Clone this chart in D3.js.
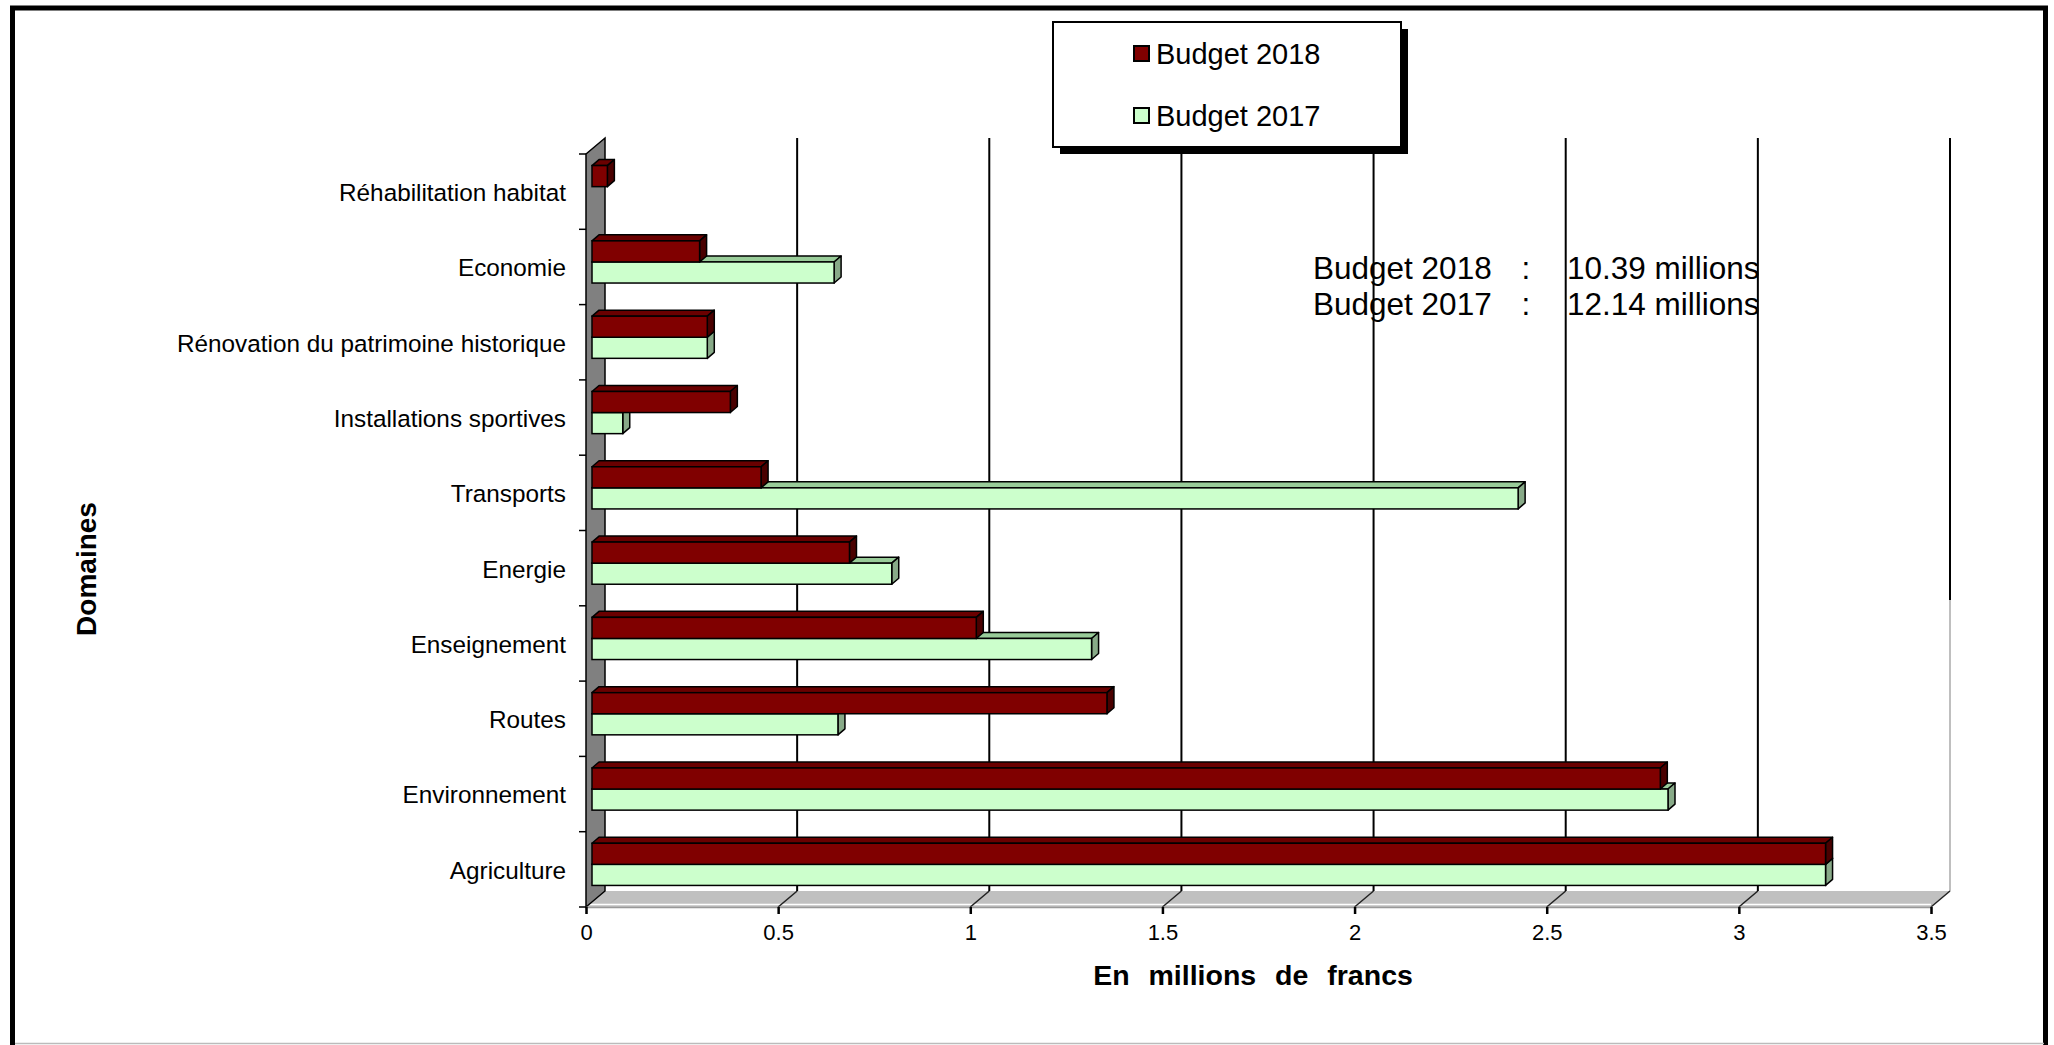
<!DOCTYPE html>
<html>
<head>
<meta charset="utf-8">
<script src="https://cdn.jsdelivr.net/npm/d3@7"></script>
<style>
  body { margin: 0; background: #fff; }
  text { font-family: "Liberation Sans", Arial, sans-serif; }
</style>
</head>
<body>
<svg id="chart" width="2054" height="1045"></svg>
<script>
const categories = ["Réhabilitation habitat", "Economie", "Rénovation du patrimoine historique",
  "Installations sportives", "Transports", "Energie", "Enseignement", "Routes",
  "Environnement", "Agriculture"];
const series = ["Budget 2018", "Budget 2017"];
const budget2018 = [0.04, 0.28, 0.30, 0.36, 0.44, 0.67, 1.00, 1.34, 2.78, 3.21];
const budget2017 = [0, 0.63, 0.30, 0.08, 2.41, 0.78, 1.30, 0.64, 2.80, 3.21];
const xTicks = [0, 0.5, 1, 1.5, 2, 2.5, 3, 3.5];
const totalLabels = ["Budget 2018", "Budget 2017"];
const totalValues = ["10.39 millions", "12.14 millions"];

const svg = d3.select("#chart");

// colours: front, top, side
const colors = {
  "Budget 2018": ["#800000", "#6a0000", "#4a0000"],
  "Budget 2017": ["#ccffcc", "#99cc99", "#88aa88"]
};

// outer frame
svg.append("rect").attr("x", 12.5).attr("y", 8).attr("width", 2033).attr("height", 1060)
  .attr("fill", "none").attr("stroke", "#000").attr("stroke-width", 5);
svg.append("line").attr("x1", 15).attr("x2", 2044).attr("y1", 1043.5).attr("y2", 1043.5)
  .attr("stroke", "#bbb").attr("stroke-width", 1.5);

// plot geometry (front plane) and depth of the wall/floor
const dX = 19, dY = -16;
const x = d3.scaleLinear().domain([0, 3.5]).range([586, 1931]);
const y = d3.scaleBand().domain(categories).range([154, 907]).paddingInner(0.44).paddingOuter(0.22);
const yS = d3.scaleBand().domain(series).range([0, y.bandwidth()]);
const top0 = 154, bot0 = 907;

// floor
svg.append("polygon")
  .attr("points", [[x(0), bot0], [x(0) + dX, bot0 + dY], [x(3.5) + dX, bot0 + dY], [x(3.5), bot0]].join(" "))
  .attr("fill", "#c0c0c0");
svg.append("line").attr("x1", x(0)).attr("x2", x(3.5)).attr("y1", bot0 - 2.5).attr("y2", bot0 - 2.5)
  .attr("stroke", "#fff").attr("stroke-width", 1.5);

// back gridlines + floor diagonals
xTicks.filter(d => d > 0).forEach(d => {
  if (d === 3.5) {
    svg.append("line").attr("x1", x(d) + dX).attr("x2", x(d) + dX)
      .attr("y1", top0 + dY).attr("y2", 600).attr("stroke", "#000").attr("stroke-width", 2);
    svg.append("line").attr("x1", x(d) + dX).attr("x2", x(d) + dX)
      .attr("y1", 600).attr("y2", bot0 + dY).attr("stroke", "#aaa").attr("stroke-width", 1.5);
  } else {
    svg.append("line").attr("x1", x(d) + dX).attr("x2", x(d) + dX)
      .attr("y1", top0 + dY).attr("y2", bot0 + dY).attr("stroke", "#000").attr("stroke-width", 2);
  }
  svg.append("line").attr("x1", x(d)).attr("x2", x(d) + dX)
    .attr("y1", bot0).attr("y2", bot0 + dY)
    .attr("stroke", "#222").attr("stroke-width", 1.5);
});

// left wall
svg.append("polygon")
  .attr("points", [[x(0), top0], [x(0) + dX, top0 + dY], [x(0) + dX, bot0 + dY], [x(0), bot0]].join(" "))
  .attr("fill", "#808080").attr("stroke", "#000").attr("stroke-width", 1.5);

// x axis
const xAxis = svg.append("g").attr("transform", `translate(0, ${bot0})`)
  .call(d3.axisBottom(x).tickValues(xTicks).tickSize(7).tickPadding(10).tickFormat(d => String(d)));
xAxis.select(".domain").attr("stroke", "#999").attr("stroke-width", 1.5);
xAxis.selectAll(".tick line").attr("stroke", "#000").attr("stroke-width", 2.5);
xAxis.selectAll(".tick text").attr("font-size", 22).attr("fill", "#000")
  .style("font-family", "'Liberation Sans', Arial, sans-serif");

// y ticks (category boundaries)
d3.range(categories.length + 1).forEach(i => {
  const yy = top0 + i * y.step();
  svg.append("line").attr("x1", x(0) - 7).attr("x2", x(0)).attr("y1", yy).attr("y2", yy)
    .attr("stroke", "#000").attr("stroke-width", 1.5);
});

// category labels
svg.append("g").selectAll("text").data(categories).join("text")
  .attr("x", 566).attr("y", d => y(d) + y.bandwidth() / 2 + 3)
  .attr("text-anchor", "end").attr("dominant-baseline", "middle")
  .attr("font-size", 24.3).text(d => d);

// 3D bars
const bdx = 7, bdy = 6, shiftX = 6, shiftY = -5;
function bar(g, v, yTop, yBot, c) {
  const x0 = x(0) + shiftX, x1 = x(v) + shiftX;
  const t = yTop + shiftY, b = yBot + shiftY;
  g.append("polygon").attr("points", [[x0, t], [x0 + bdx, t - bdy], [x1 + bdx, t - bdy], [x1, t]].join(" "))
    .attr("fill", c[1]).attr("stroke", "#000").attr("stroke-width", 1.5).attr("stroke-linejoin", "round");
  g.append("polygon").attr("points", [[x1, t], [x1 + bdx, t - bdy], [x1 + bdx, b - bdy], [x1, b]].join(" "))
    .attr("fill", c[2]).attr("stroke", "#000").attr("stroke-width", 1.5).attr("stroke-linejoin", "round");
  g.append("rect").attr("x", x0).attr("y", t).attr("width", x1 - x0).attr("height", b - t)
    .attr("fill", c[0]).attr("stroke", "#000").attr("stroke-width", 1.5);
}
const bars = svg.append("g");
categories.forEach((cat, i) => {
  const vals = { "Budget 2018": budget2018[i], "Budget 2017": budget2017[i] };
  // draw lower series first so the upper one covers its top face
  ["Budget 2017", "Budget 2018"].forEach(s => {
    if (vals[s] <= 0) return;
    const yt = y(cat) + yS(s);
    bar(bars, vals[s], yt, yt + yS.bandwidth(), colors[s]);
  });
});

// axis titles
svg.append("text").attr("x", 1253).attr("y", 985).attr("text-anchor", "middle")
  .attr("font-size", 28.5).attr("font-weight", "bold").attr("word-spacing", 11)
  .text("En millions de francs");
svg.append("text").attr("transform", "translate(96, 569) rotate(-90)").attr("text-anchor", "middle")
  .attr("font-size", 28).attr("font-weight", "bold").text("Domaines");

// totals annotation
const tot = svg.append("g");
totalLabels.forEach((t, i) => {
  const by = 279 + i * 36;
  tot.append("text").attr("x", 1313).attr("y", by).attr("font-size", 31.5).text(t);
  tot.append("text").attr("x", 1526).attr("y", by).attr("text-anchor", "middle").attr("font-size", 31.5).text(":");
  tot.append("text").attr("x", 1567).attr("y", by).attr("font-size", 31.5).text(totalValues[i]);
});

// legend
const lg = svg.append("g");
lg.append("rect").attr("x", 1060).attr("y", 29).attr("width", 348).attr("height", 125).attr("fill", "#000");
lg.append("rect").attr("x", 1053).attr("y", 22).attr("width", 348).attr("height", 125)
  .attr("fill", "#fff").attr("stroke", "#000").attr("stroke-width", 2);
series.forEach((s, i) => {
  const cy = 54 + i * 62;
  lg.append("rect").attr("x", 1134).attr("y", cy - 8).attr("width", 15).attr("height", 15)
    .attr("fill", colors[s][0]).attr("stroke", "#000").attr("stroke-width", 2);
  lg.append("text").attr("x", 1156).attr("y", cy + 10).attr("font-size", 29).text(s);
});
</script>
</body>
</html>
